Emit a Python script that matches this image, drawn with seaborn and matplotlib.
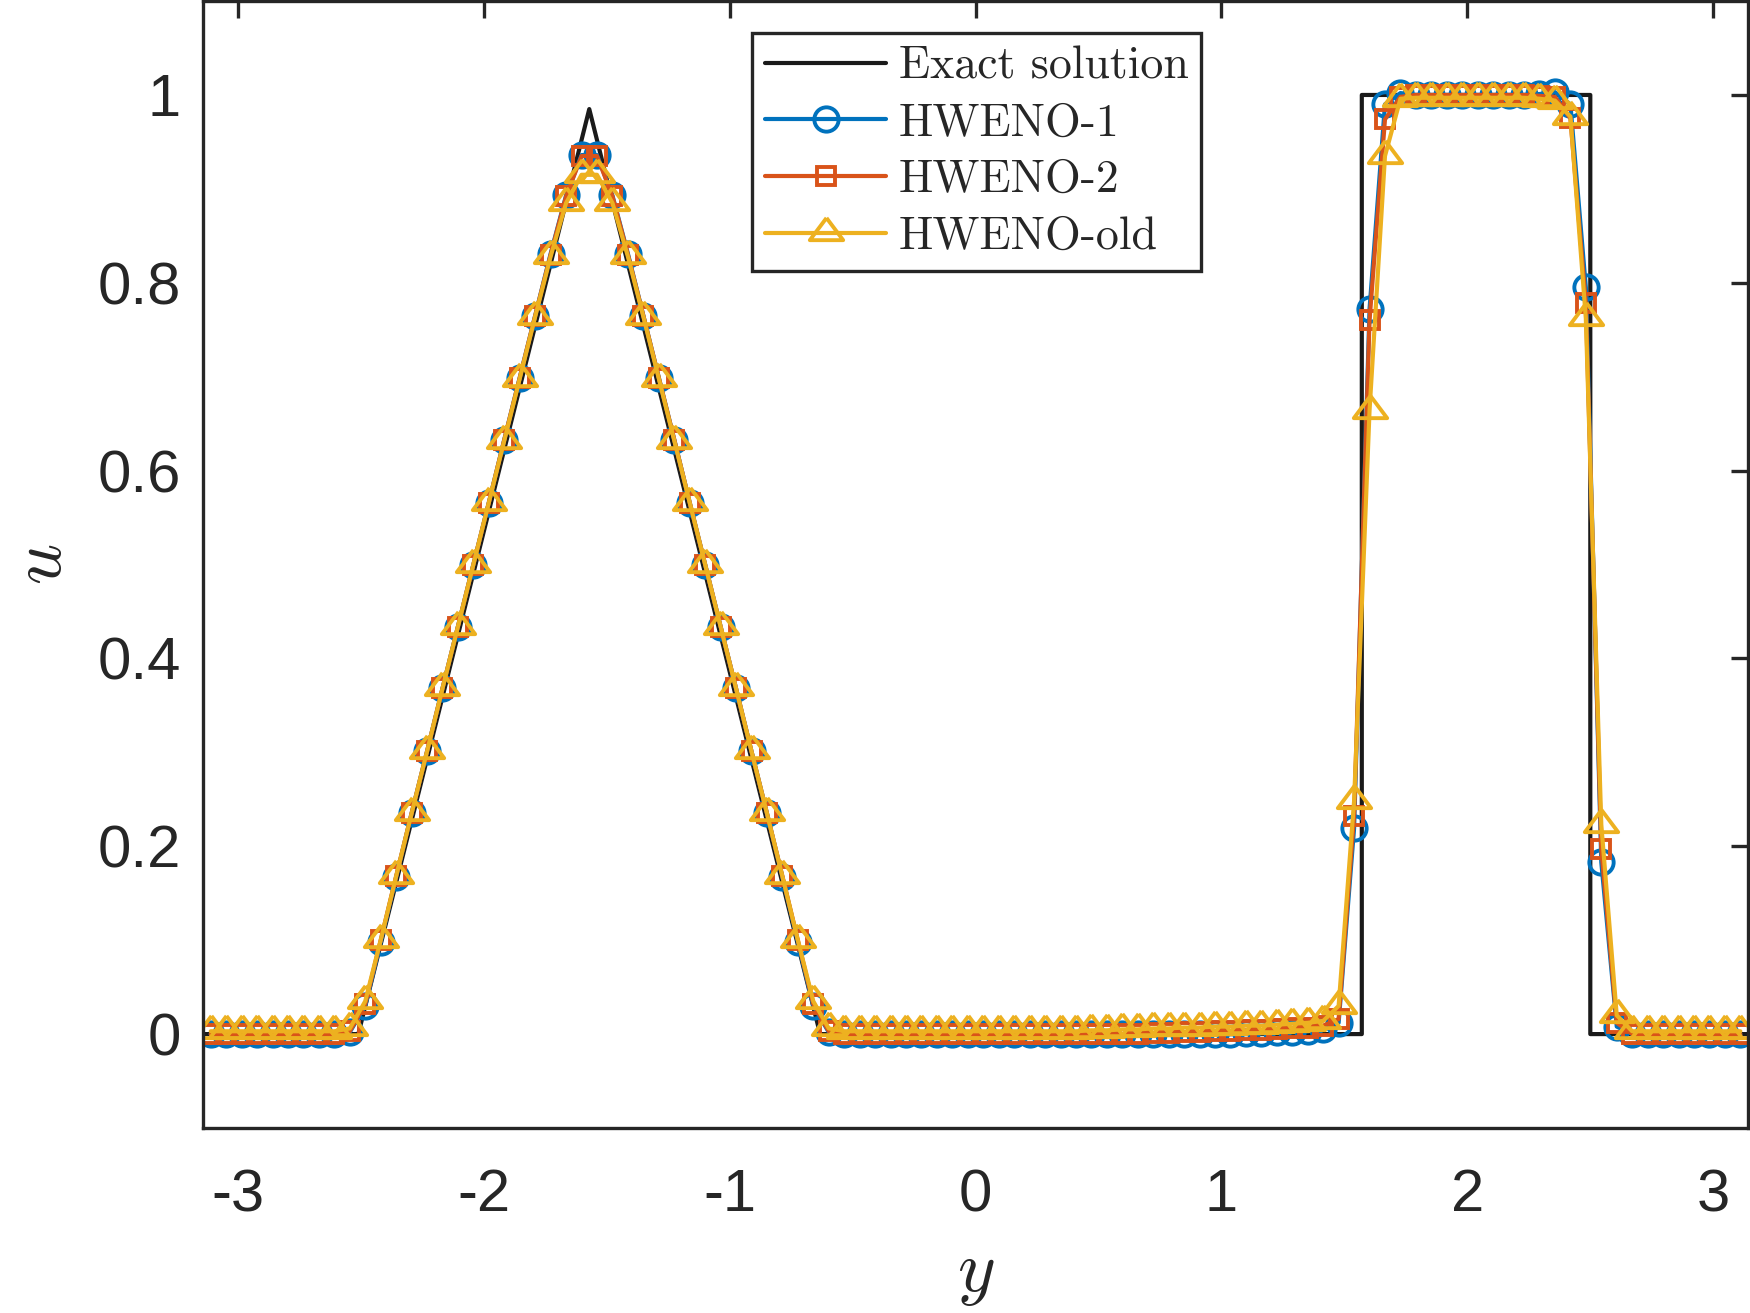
import numpy as np
import matplotlib
matplotlib.use('Agg')
import matplotlib.pyplot as plt
import seaborn as sns

# cell centres on [-pi, pi], 100 cells
n_cells = 100
h = 2 * np.pi / n_cells
y_grid = np.linspace(-np.pi + h / 2, np.pi - h / 2, n_cells)

# exact solution (piecewise linear vertices)
exact_y = [-np.pi, -2.51, -np.pi / 2, -0.632, np.pi / 2, np.pi / 2, 2.5, 2.5, np.pi]
exact_u = [0.0, 0.0, 0.985, 0.0, 0.0, 1.0, 1.0, 0.0, 0.0]

hweno1 = [
    0.0, 0.0, 0.0, 0.0, 0.0, 0.0, 0.0, 0.0, 0.0, 0.002,
    0.030, 0.098, 0.167, 0.235, 0.301, 0.368, 0.434, 0.500, 0.566, 0.633,
    0.699, 0.765, 0.831, 0.893, 0.936, 0.936, 0.893, 0.831, 0.765, 0.699,
    0.633, 0.566, 0.500, 0.434, 0.368, 0.301, 0.235, 0.167, 0.098, 0.030,
    0.002, 0.0, 0.0, 0.0, 0.0, 0.0, 0.0, 0.0, 0.0, 0.0,
    0.0, 0.0, 0.0, 0.0, 0.0, 0.0, 0.0, 0.0, 0.0, 0.0,
    0.0, 0.0, 0.0, 0.0, 0.0, 0.0, 0.0, 0.001, 0.001, 0.002,
    0.002, 0.003, 0.005, 0.012, 0.219, 0.772, 0.990, 1.002, 1.000, 1.000,
    1.000, 1.000, 1.000, 1.000, 1.000, 1.000, 1.001, 1.003, 0.990, 0.795,
    0.183, 0.008, 0.0, 0.0, 0.0, 0.0, 0.0, 0.0, 0.0, 0.0,
]

hweno2 = [
    0.0, 0.0, 0.0, 0.0, 0.0, 0.0, 0.0, 0.0, 0.0, 0.003,
    0.032, 0.100, 0.168, 0.235, 0.301, 0.368, 0.434, 0.500, 0.566, 0.633,
    0.699, 0.765, 0.830, 0.892, 0.935, 0.935, 0.892, 0.830, 0.765, 0.699,
    0.633, 0.566, 0.500, 0.434, 0.368, 0.301, 0.235, 0.168, 0.100, 0.032,
    0.003, 0.0, 0.0, 0.0, 0.0, 0.0, 0.0, 0.0, 0.0, 0.0,
    0.0, 0.0, 0.0, 0.0, 0.0, 0.0, 0.0, 0.0, 0.0, 0.0,
    0.0, 0.001, 0.001, 0.002, 0.002, 0.003, 0.003, 0.004, 0.004, 0.005,
    0.006, 0.007, 0.009, 0.016, 0.232, 0.760, 0.974, 0.998, 1.000, 1.000,
    1.000, 1.000, 1.000, 1.000, 1.000, 1.000, 0.999, 0.998, 0.975, 0.778,
    0.197, 0.012, 0.0, 0.0, 0.0, 0.0, 0.0, 0.0, 0.0, 0.0,
]

hweno_old = [
    0.003, 0.003, 0.003, 0.003, 0.003, 0.003, 0.003, 0.003, 0.003, 0.006,
    0.035, 0.100, 0.168, 0.235, 0.301, 0.368, 0.434, 0.500, 0.566, 0.632,
    0.698, 0.764, 0.828, 0.885, 0.915, 0.915, 0.885, 0.828, 0.764, 0.698,
    0.632, 0.566, 0.500, 0.434, 0.368, 0.301, 0.235, 0.168, 0.100, 0.035,
    0.006, 0.003, 0.003, 0.003, 0.003, 0.003, 0.003, 0.003, 0.003, 0.003,
    0.003, 0.003, 0.003, 0.003, 0.003, 0.003, 0.003, 0.004, 0.004, 0.005,
    0.005, 0.006, 0.006, 0.007, 0.007, 0.008, 0.008, 0.009, 0.009, 0.010,
    0.011, 0.012, 0.014, 0.030, 0.248, 0.664, 0.935, 0.996, 0.997, 0.997,
    0.997, 0.997, 0.997, 0.997, 0.997, 0.997, 0.996, 0.994, 0.977, 0.762,
    0.223, 0.020, 0.003, 0.003, 0.003, 0.003, 0.003, 0.003, 0.003, 0.003,
]

x_ticks = [-3, -2, -1, 0, 1, 2, 3]
x_ticklabels = ['-3', '-2', '-1', '0', '1', '2', '3']
u_ticks = [0, 0.2, 0.4, 0.6, 0.8, 1]
u_ticklabels = ['0', '0.2', '0.4', '0.6', '0.8', '1']

sns.set_theme(style='white')
plt.rcParams['font.family'] = ['Liberation Sans', 'DejaVu Sans']
plt.rcParams['mathtext.fontset'] = 'cm'
plt.rcParams['axes.unicode_minus'] = False

axis_col = '#262626'
blue, orange, yellow = '#0072BD', '#D95319', '#EDB120'
lw = 3.0
mew = 2.8
# wide, flat triangle like matlab's '^'
tri = [(0, 0.7), (-0.75, -0.3), (0.75, -0.3), (0, 0.7)]

fig = plt.figure(figsize=(17.5, 13.13), dpi=100)
ax = fig.add_axes([0.116, 0.1409, 0.8829, 0.8583])

sns.lineplot(x=exact_y, y=exact_u, sort=False, estimator=None, color='k',
             lw=lw, label='Exact solution', ax=ax)
sns.lineplot(x=y_grid, y=hweno1, sort=False, estimator=None, color=blue, lw=lw,
             marker='o', markersize=17.5, markerfacecolor='none',
             markeredgecolor=blue, markeredgewidth=mew, label='HWENO-1', ax=ax)
sns.lineplot(x=y_grid, y=hweno2, sort=False, estimator=None, color=orange, lw=lw,
             marker='s', markersize=13, markerfacecolor='none',
             markeredgecolor=orange, markeredgewidth=mew, label='HWENO-2', ax=ax)
sns.lineplot(x=y_grid, y=hweno_old, sort=False, estimator=None, color=yellow, lw=lw,
             marker=tri, markersize=24, markerfacecolor='none',
             markeredgecolor=yellow, markeredgewidth=mew, label='HWENO-old', ax=ax)

ax.set_xlim(-np.pi, np.pi)
ax.set_ylim(-0.1, 1.1)
ax.set_xticks(x_ticks)
ax.set_xticklabels(x_ticklabels)
ax.set_yticks(u_ticks)
ax.set_yticklabels(u_ticklabels)
ax.tick_params(direction='in', top=True, right=True, length=12, width=2.4,
               color=axis_col, labelcolor=axis_col, labelsize=43)
ax.tick_params(axis='x', pad=29)
ax.tick_params(axis='y', pad=16)
for s in ax.spines.values():
    s.set_linewidth(2.4)
    s.set_color(axis_col)

ax.set_xlabel(r'$y$', fontsize=52, color=axis_col)
ax.set_ylabel(r'$u$', fontsize=52, color=axis_col)
ax.xaxis.set_label_coords(0.5, -0.1)
ax.yaxis.set_label_coords(-0.082, 0.5)

leg = ax.legend(loc='upper left', bbox_to_anchor=(0.3553, 0.9716), borderaxespad=0,
                prop={'family': 'cmr10', 'size': 33}, handlelength=2.65,
                handletextpad=0.27, labelspacing=0.33, borderpad=0.28,
                fancybox=False, edgecolor=axis_col, framealpha=1)
leg.get_frame().set_linewidth(2.4)

fig.savefig('out.png', dpi=100)
